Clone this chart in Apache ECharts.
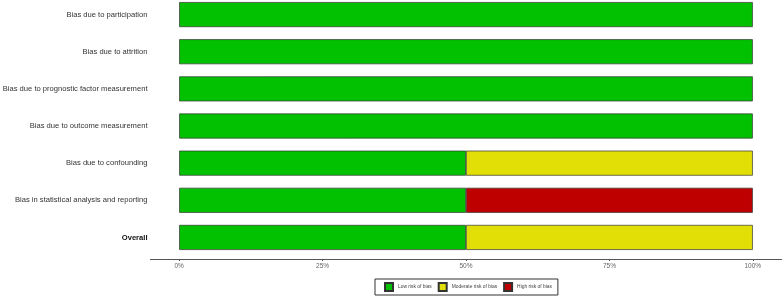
<!DOCTYPE html>
<html><head><meta charset="utf-8">
<script src="https://cdn.jsdelivr.net/npm/echarts@6/dist/echarts.min.js"></script>
<style>html,body{margin:0;padding:0;background:#fff}#c{width:783px;height:298px}</style>
</head><body><div id="c"></div>
<script>
const categories = ["Bias due to participation","Bias due to attrition","Bias due to prognostic factor measurement","Bias due to outcome measurement","Bias due to confounding","Bias in statistical analysis and reporting","Overall"];
const lowRisk = [100,100,100,100,50,50,50];
const moderateRisk = [0,0,0,0,50,0,50];
const highRisk = [0,0,0,0,0,50,0];
const tickValues = [0,25,50,75,100];
const seriesNames = ["Low risk of bias","Moderate risk of bias","High risk of bias"];
const colors = ["#02C100","#E2DF07","#BF0000"];

const chart = echarts.init(document.getElementById('c'), null, {renderer:'canvas'});
const vals = [lowRisk, moderateRisk, highRisk];
chart.setOption({
  animation:false,
  grid:{left:150.5,right:1.5,top:-4,height:260,containLabel:false,outerBoundsMode:'none'},
  legend:{
    left:375, top:279,
    data:seriesNames,
    itemWidth:8, itemHeight:8, itemGap:6,
    padding:[3,6,3,9],
    borderColor:'#333', borderWidth:1,
    textStyle:{fontSize:4.9, color:'#444', fontFamily:'Liberation Sans'},
    icon:'rect'
  },
  xAxis:{
    type:'value', min:-5, max:105, offset:3,
    splitLine:{show:false},
    axisLine:{show:true, lineStyle:{color:'#555', width:1}},
    axisTick:{show:true, length:2, customValues:tickValues, lineStyle:{color:'#555'}},
    axisLabel:{customValues:tickValues, formatter:v=>v+'%', color:'#666', fontSize:6.5, margin:4, fontFamily:'Liberation Sans'}
  },
  yAxis:{
    type:'category', data:categories, inverse:true,
    axisLine:{show:false}, axisTick:{show:false},
    axisLabel:{
      margin:3, fontSize:7.6, color:'#333', fontFamily:'Liberation Sans',
      formatter:(v)=> v==='Overall' ? '{b|'+v+'}' : v,
      rich:{b:{fontWeight:'bold', fontSize:7.6, color:'#111', fontFamily:'Liberation Sans'}}
    }
  },
  series: seriesNames.map((n,i)=>({
    name:n, type:'bar', stack:'s', barWidth:25,
    data: vals[i].map(v=> v===0 ? null : v),
    itemStyle:{color:colors[i], borderColor:'#333', borderWidth:0.7}
  }))
});
</script></body></html>
